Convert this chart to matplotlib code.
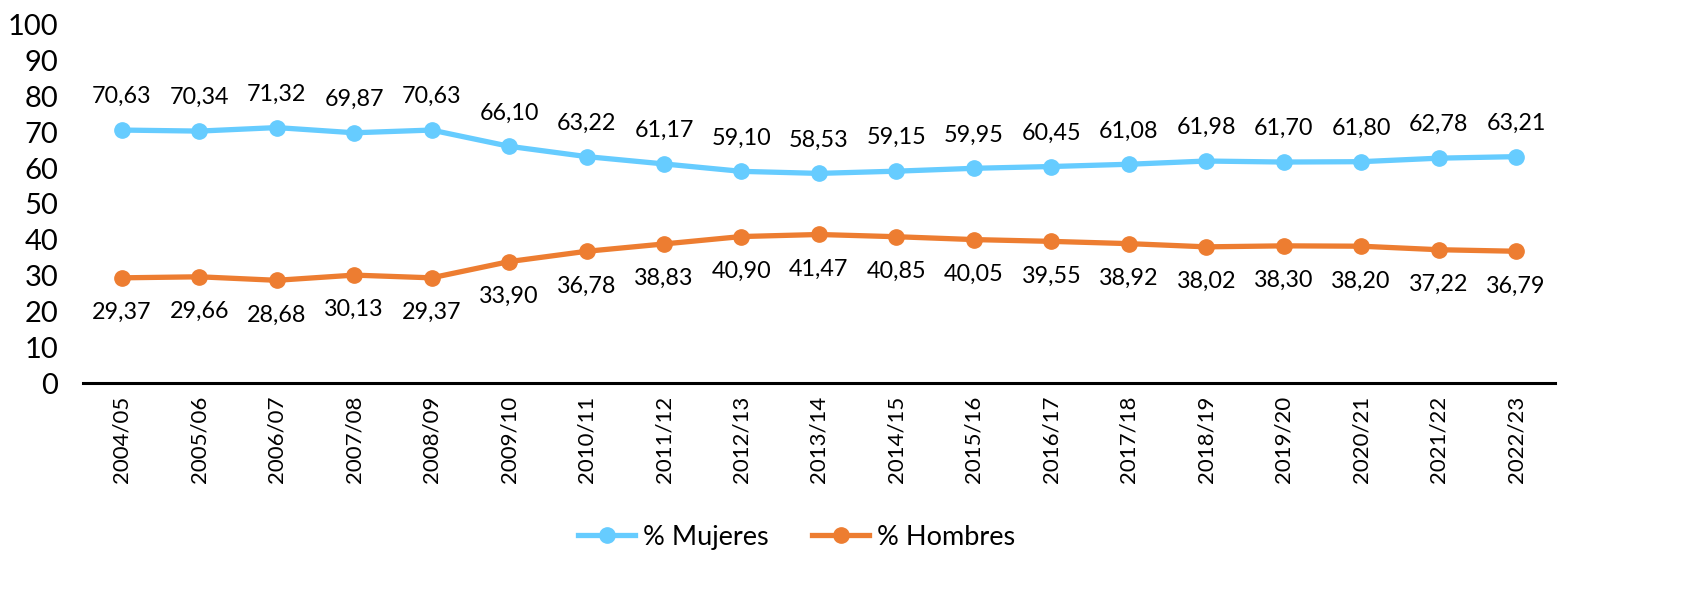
import matplotlib.pyplot as plt

plt.rcParams['font.family'] = ['Lato', 'DejaVu Sans']

# Course years
cursos = ['2004/05', '2005/06', '2006/07', '2007/08', '2008/09', '2009/10',
          '2010/11', '2011/12', '2012/13', '2013/14', '2014/15', '2015/16',
          '2016/17', '2017/18', '2018/19', '2019/20', '2020/21', '2021/22',
          '2022/23']

mujeres = [70.63, 70.34, 71.32, 69.87, 70.63, 66.10, 63.22, 61.17, 59.10,
           58.53, 59.15, 59.95, 60.45, 61.08, 61.98, 61.70, 61.80, 62.78,
           63.21]
hombres = [29.37, 29.66, 28.68, 30.13, 29.37, 33.90, 36.78, 38.83, 40.90,
           41.47, 40.85, 40.05, 39.55, 38.92, 38.02, 38.30, 38.20, 37.22,
           36.79]

AZUL = '#66CCFF'
NARANJA = '#ED7D31'

fig = plt.figure(figsize=(16.84, 5.92), dpi=100)
ax = fig.add_axes([0.0493, 0.353, 0.874, 0.605])

x = list(range(len(cursos)))
ax.plot(x, mujeres, color=AZUL, lw=3.8, marker='o', ms=11, label='% Mujeres')
ax.plot(x, hombres, color=NARANJA, lw=3.8, marker='o', ms=11, label='% Hombres')

def fmt(v):
    return f'{v:.2f}'.replace('.', ',')

for xi, v in zip(x, mujeres):
    ax.annotate(fmt(v), (xi, v), xytext=(0, 24), textcoords='offset points',
                ha='center', va='center', fontsize=16.8, color='black')
for xi, v in zip(x, hombres):
    ax.annotate(fmt(v), (xi, v), xytext=(0, -25), textcoords='offset points',
                ha='center', va='center', fontsize=16.8, color='black')

ax.set_xlim(-0.5, len(cursos) - 0.5)
ax.set_ylim(0, 100)
ax.set_yticks(range(0, 101, 10))
ax.set_xticks(x)
ax.set_xticklabels(cursos, rotation=90, fontsize=16)
ax.tick_params(axis='y', length=0, pad=18, labelsize=21)
ax.tick_params(axis='x', length=0, pad=9)

for s in ['top', 'right', 'left']:
    ax.spines[s].set_visible(False)
ax.spines['bottom'].set_linewidth(2.2)
ax.spines['bottom'].set_color('black')

ax.legend(loc='center', bbox_to_anchor=(0.485, -0.43), ncol=2, frameon=False,
          fontsize=19.5, handlelength=2.1, columnspacing=1.6, handletextpad=0.3)

plt.savefig('out.png', dpi=100)
